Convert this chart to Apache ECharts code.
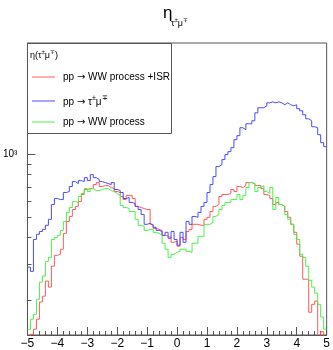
<!DOCTYPE html>
<html>
<head>
<meta charset="utf-8">
<script src="https://cdn.jsdelivr.net/npm/echarts@6/dist/echarts.min.js"></script>
<style>html,body{margin:0;padding:0;background:#fff}#c{width:333px;height:350px}</style>
</head>
<body>
<div id="c"></div>
<script>
// Histogram binning: 100 bins from -5 to 5
const binLow = -5;
const binWidth = 0.1;
const nBins = 100;

// pp -> WW process +ISR (red)
const redCounts = [130,138,146,163,197,210,248,232,292,329,
  333,352,419,478,505,545,564,595,643,679,
  686,686,717,733,702,709,709,694,686,664,
  657,629,608,636,636,615,564,557,551,545,
  545,463,443,438,433,410,406,401,380,384,
  364,401,392,428,438,463,463,458,458,489,
  500,533,564,576,629,643,643,650,679,664,
  702,694,709,733,733,725,709,709,686,643,
  636,615,576,589,576,564,533,500,463,424,
  372,326,253,253,176,192,199,131,142,131];

// pp -> tau mu (blue)
const blueCounts = [289,276,392,415,428,438,458,489,576,615,
  608,608,657,664,702,741,725,749,741,774,
  749,800,774,758,741,733,725,717,733,679,
  672,657,615,622,589,582,564,545,516,463,
  468,458,448,433,428,410,424,397,428,392,
  368,424,380,478,463,505,500,528,564,589,
  657,717,783,874,893,944,997,1030,1076,1175,
  1228,1340,1311,1400,1400,1447,1579,1669,1669,1706,
  1763,1782,1763,1782,1763,1725,1763,1725,1706,1725,
  1651,1614,1545,1479,1447,1355,1340,1241,1137,1088];

// pp -> WW process (green)
const greenCounts = [146,163,172,203,245,262,308,322,392,401,
  410,433,478,528,557,595,589,629,650,686,
  664,686,672,672,679,686,686,672,664,650,
  636,570,557,551,533,533,489,458,453,433,
  438,438,424,419,410,376,352,322,333,340,
  344,352,352,344,340,376,376,406,406,463,
  463,473,505,516,545,570,589,589,608,608,
  643,608,636,694,733,725,664,694,709,664,
  650,694,545,622,576,564,516,489,463,414,
  392,333,322,292,250,232,217,192,167,146];

const xTickValues = [-5,-4,-3,-2,-1,0,1,2,3,4,5];
const yMajorTicks = [1000];
const yMinorTicks = [200,300,400,500,600,700,800,900,2000,3000];
const yMin = 137, yMax = 3404;

const seriesNames = ['pp \u2192 WW process +ISR', 'pp \u2192 \u03c4\u00b1\u03bc\u2213', 'pp \u2192 WW process'];
const seriesColors = ['#ff5a5a', '#4a4aff', '#4cf04c'];

function stepData(counts) {
  const d = [];
  for (let i = 0; i < nBins; i++) d.push([binLow + i * binWidth, Math.log10(counts[i])]);
  d.push([binLow + nBins * binWidth, Math.log10(counts[nBins - 1])]);
  return d;
}

const FONT = 'Liberation Sans, Arial, Helvetica, sans-serif';
const AXIS = '#555';
const chart = echarts.init(document.getElementById('c'), null, {renderer: 'canvas'});

const supRich = function (n, s) {
  return {
    n: {fontSize: n, fontFamily: FONT, color: '#000', verticalAlign: 'bottom'},
    a: {fontSize: n, fontFamily: 'DejaVu Sans', color: '#000', verticalAlign: 'bottom'},
    s: {fontSize: s, fontFamily: FONT, color: '#000', verticalAlign: 'top', padding: [0, 0, Math.round(n * 0.55), 0]}
  };
};

const legendTop = 43, legendLeft = 27, legendRight = 171, legendBottom = 133;
const entryY = [77, 101, 122];
const entryTexts = [
  '{n|pp }{a|\u2192}{n| WW process +ISR}',
  '{n|pp }{a|\u2192}{n| \u03c4}{s|\u00b1}{n|\u03bc}{s|\u2213}',
  '{n|pp }{a|\u2192}{n| WW process}'
];

const graphics = [
  {type: 'text', left: 163, top: 5, z: 100,
   style: {text: '\u03b7', fontSize: 17, fontFamily: FONT, fill: '#000'}},
  {type: 'text', x: 171, y: 23, z: 100,
   style: {text: '{n|\u03c4}{s|\u00b1}{n|\u03bc}{s|\u2213}', rich: supRich(9, 6), verticalAlign: 'middle'}},
  {type: 'rect', z: 100,
   shape: {x: legendLeft + 0.5, y: legendTop + 0.5, width: legendRight - legendLeft, height: legendBottom - legendTop},
   style: {fill: '#fff', stroke: AXIS, lineWidth: 1}},
  {type: 'text', x: 30, y: 55, z: 101,
   style: {text: '{n|\u03b7(\u03c4}{s|\u00b1}{n|\u03bc}{s|\u2213}{n|)}', rich: supRich(9, 6), verticalAlign: 'middle'}}
];
for (let k = 0; k < 3; k++) {
  graphics.push({type: 'line', z: 101,
    shape: {x1: 32, y1: entryY[k], x2: 55, y2: entryY[k]},
    style: {stroke: seriesColors[k], lineWidth: 1}});
  graphics.push({type: 'text', x: 63, y: entryY[k], z: 101,
    style: {text: entryTexts[k], rich: supRich(10, 7), verticalAlign: 'middle'}});
}

const option = {
  animation: false,
  backgroundColor: '#fff',
  grid: {left: 27, right: 4, top: 43, bottom: 14, show: true, borderColor: AXIS, borderWidth: 1, backgroundColor: 'transparent'},
  xAxis: {
    type: 'value', min: -5, max: 5, interval: 1,
    axisLine: {show: true, onZero: false, lineStyle: {color: AXIS}},
    axisTick: {show: true, inside: true, length: 8, lineStyle: {color: AXIS}},
    minorTick: {show: true, splitNumber: 5, length: 4, lineStyle: {color: AXIS}},
    splitLine: {show: false},
    minorSplitLine: {show: false},
    axisLabel: {
      margin: 3, fontSize: 12, fontFamily: FONT, color: '#000',
      customValues: xTickValues,
      formatter: v => String(v).replace('-', '\u2212')
    }
  },
  yAxis: [
    {
      type: 'value', min: Math.log10(yMin), max: Math.log10(yMax),
      axisLine: {show: true, onZero: false, lineStyle: {color: AXIS}},
      axisTick: {show: true, inside: true, length: 8, lineStyle: {color: AXIS}, customValues: yMajorTicks.map(Math.log10)},
      splitLine: {show: false},
      axisLabel: {
        margin: 10, fontSize: 10, fontFamily: FONT, color: '#000',
        customValues: yMajorTicks.map(Math.log10),
        formatter: v => '10\u00b3'
      }
    },
    {
      type: 'value', min: Math.log10(yMin), max: Math.log10(yMax), position: 'left',
      axisLine: {show: false, onZero: false},
      axisTick: {show: true, inside: true, length: 4, lineStyle: {color: AXIS}, customValues: yMinorTicks.map(Math.log10)},
      splitLine: {show: false},
      axisLabel: {show: false}
    }
  ],
  series: [
    {name: seriesNames[0], type: 'line', step: 'end', showSymbol: false, symbol: 'none', clip: true,
     data: stepData(redCounts), lineStyle: {color: seriesColors[0], width: 1}, z: 3},
    {name: seriesNames[1], type: 'line', step: 'end', showSymbol: false, symbol: 'none', clip: true,
     data: stepData(blueCounts), lineStyle: {color: seriesColors[1], width: 1}, z: 3},
    {name: seriesNames[2], type: 'line', step: 'end', showSymbol: false, symbol: 'none', clip: true,
     data: stepData(greenCounts), lineStyle: {color: seriesColors[2], width: 1}, z: 3}
  ],
  graphic: graphics
};
chart.setOption(option);
</script>
</body>
</html>
